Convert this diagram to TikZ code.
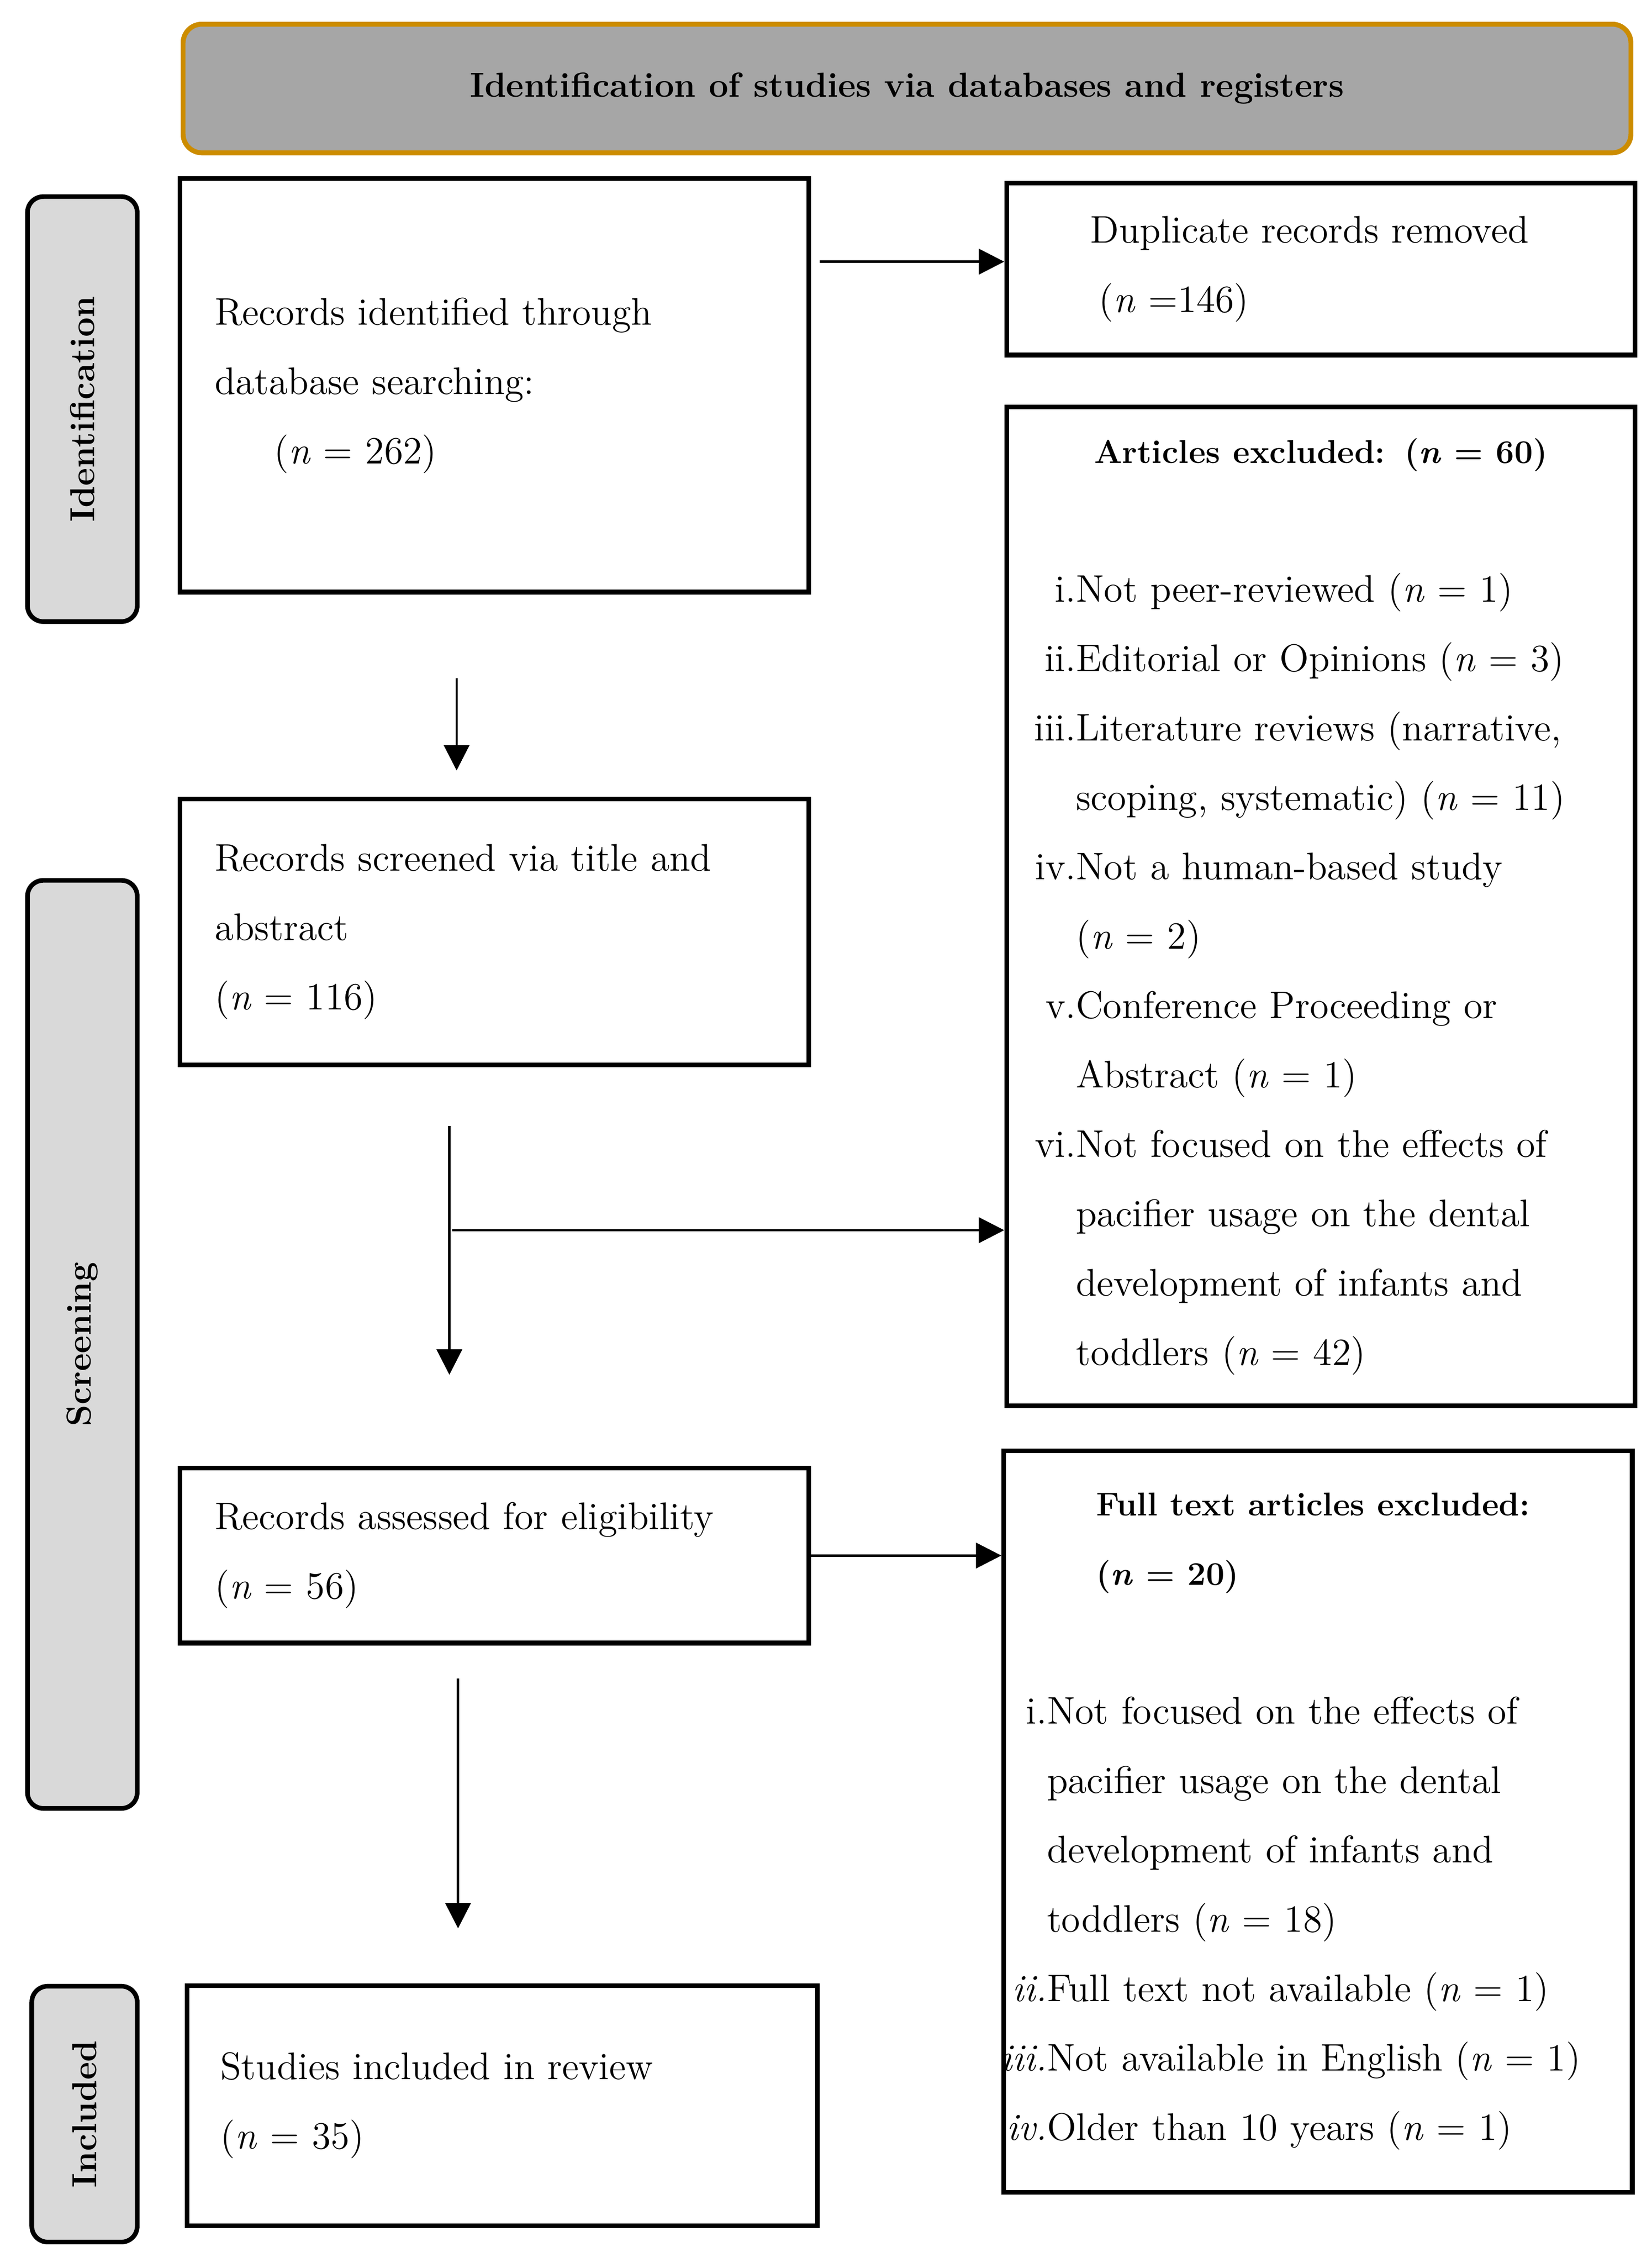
\documentclass[tikz,border=0pt]{standalone}
\usetikzlibrary{arrows.meta}
\definecolor{hdrfill}{HTML}{A6A6A6}
\definecolor{hdrline}{HTML}{CC8C00}
\definecolor{sidefill}{HTML}{D9D9D9}
\newcommand{\myn}{\textit{n}}
\newcommand{\bodyfont}{\fontsize{13.3}{24}\selectfont}
\newcommand{\titlefont}{\fontsize{11.4}{24}\selectfont\bfseries}
\newcommand{\itemlab}[2]{\makebox[#1][r]{#2}}
\begin{document}
\begin{tikzpicture}[x=0.5pt,y=-0.5pt,
  box/.style={draw, line width=1.6pt, anchor=north west, inner xsep=0pt, inner ysep=0pt,
    align=left, font=\bodyfont, text width=217.5pt},
  side/.style={draw, line width=1.6pt, fill=sidefill, rounded corners=5.5pt, rotate=90,
    inner sep=0pt, font=\fontsize{12}{14}\selectfont\bfseries},
  arr/.style={line width=0.8pt, -{Triangle[length=8.8pt,width=8.8pt]}},
]
\useasboundingbox (0,0) rectangle (1143,1565.5);

% header
\node[draw=hdrline, fill=hdrfill, line width=1.7pt, rounded corners=6.5pt,
  minimum width=501pt, minimum height=44.5pt, anchor=north west, inner sep=0pt,
  font=\fontsize{12}{14}\selectfont\bfseries] (hdr) at (125,15)
  {Identification of studies via databases and registers};

% side labels
\node[side, minimum width=147pt, minimum height=38pt] (idl) at (57,283) {Identification};
\node[side, minimum width=321pt, minimum height=38pt] (scl) at (57,930) {Screening};
\node[side, minimum width=88.5pt, minimum height=36.5pt] (inl) at (58.5,1462.5) {Included};

% left column
\node[box, minimum height=143pt] (rid) at (123,122)
  {\leftskip=12pt Records identified through\\
   database searching:\\
   \hspace*{20.5pt}(\myn{} = 262)\par};
\node[box, minimum height=92pt] (scr) at (123,551)
  {\leftskip=12pt Records screened via title and\\
   abstract\\
   (\myn{} = 116)\par};
\node[box, minimum height=60.5pt] (asd) at (123,1014)
  {\leftskip=12pt Records assessed for eligibility\\
   (\myn{} = 56)\par};
\node[box, text width=218pt, minimum height=83pt] (inc) at (128,1372)
  {\leftskip=11.5pt Studies included in review\\
   (\myn{} = 35)\par};

% right column
\node[box, minimum height=59.5pt] (dup) at (695,125)
  {\leftskip=29pt Duplicate records removed\\
   \hspace*{3pt}(\myn{} =146)\par};
\node[box, minimum height=345.5pt] (art) at (695,280)
  {\makebox[217.5pt][c]{\titlefont Articles excluded: (\myn{} = 60)}\\[24pt]
   \itemlab{24pt}{i.}Not peer-reviewed (\myn{} = 1)\\
   \itemlab{24pt}{ii.}Editorial or Opinions (\myn{} = 3)\\
   \itemlab{24pt}{iii.}Literature reviews (narrative,\\
   \hspace*{24pt}scoping, systematic) (\myn{} = 11)\\
   \itemlab{24pt}{iv.}Not a human-based study\\
   \hspace*{24pt}(\myn{} = 2)\\
   \itemlab{24pt}{v.}Conference Proceeding or\\
   \hspace*{24pt}Abstract (\myn{} = 1)\\
   \itemlab{24pt}{vi.}Not focused on the effects of\\
   \hspace*{24pt}pacifier usage on the dental\\
   \hspace*{24pt}development of infants and\\
   \hspace*{24pt}toddlers (\myn{} = 42)};
\node[box, minimum height=256.5pt] (ftx) at (693,1002)
  {\hspace*{32pt}{\titlefont Full text articles excluded:}\\
   \hspace*{32pt}{\titlefont (\myn{} = 20)}\\[24pt]
   \itemlab{15pt}{i.}Not focused on the effects of\\
   \hspace*{15pt}pacifier usage on the dental\\
   \hspace*{15pt}development of infants and\\
   \hspace*{15pt}toddlers (\myn{} = 18)\\
   \itemlab{15pt}{\textit{ii.}}Full text not available (\myn{} = 1)\\
   \itemlab{15pt}{\textit{iii.}}Not available in English (\myn{} = 1)\\
   \itemlab{15pt}{\textit{iv.}}Older than 10 years (\myn{} = 1)};

% connectors
\coordinate (a1y) at (0,181);
\draw[arr, shorten <=3pt] (rid.east |- a1y) -- (dup.west |- a1y);
\coordinate (a2s) at (316,469);
\coordinate (a2e) at (316,533);
\draw[arr] (a2s) -- (a2e);
\coordinate (a3s) at (311,779);
\coordinate (a3e) at (311,951);
\draw[arr] (a3s) -- (a3e);
\coordinate (a3h) at (313,851);
\draw[arr] (a3h) -- (a3h -| art.west);
\draw[arr] (asd.east) -- (asd.east -| ftx.west);
\coordinate (a5s) at (317,1161);
\coordinate (a5e) at (317,1334);
\draw[arr] (a5s) -- (a5e);
\end{tikzpicture}
\end{document}
